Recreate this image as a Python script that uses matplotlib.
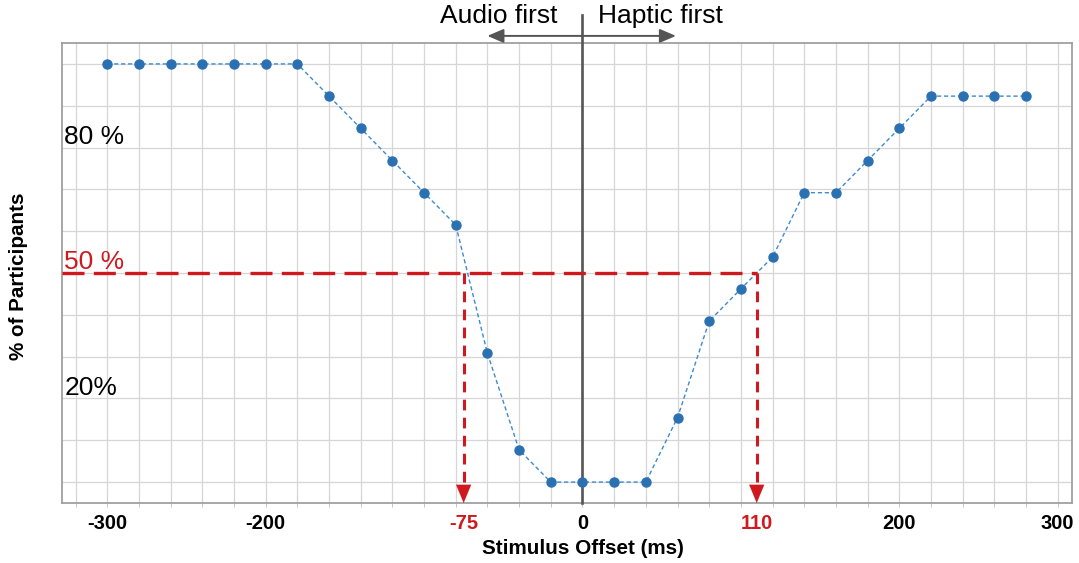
import numpy as np
import matplotlib
matplotlib.use('Agg')
import matplotlib.pyplot as plt
from matplotlib.ticker import MultipleLocator, FixedLocator

plt.rcParams['font.family'] = ['Liberation Sans', 'DejaVu Sans']
plt.rcParams['axes.unicode_minus'] = False

# stimulus offsets (ms) and share of participants answering "synchronous" (%)
offsets = [-300, -280, -260, -240, -220, -200, -180, -160, -140, -120,
           -100, -80, -60, -40, -20, 0, 20, 40, 60, 80,
           100, 120, 140, 160, 180, 200, 220, 240, 260, 280]
participants = [100, 100, 100, 100, 100, 100, 100, 92.3, 84.6, 76.9,
                69.2, 61.5, 30.8, 7.7, 0, 0, 0, 0, 15.4, 38.5,
                46.2, 53.8, 69.2, 69.2, 76.9, 84.6, 92.3, 92.3, 92.3, 92.3]

tick_pos = [-300, -200, -75, 0, 110, 200, 300]
tick_labels = ['-300', '-200', '-75', '0', '110', '200', '300']
thresholds = [-75, 110]
level_labels = ['80 %', '50 %', '20%']
level_values = [80, 50, 20]

RED = '#d0181f'
GREY = '#555555'

fig = plt.figure(figsize=(10.79, 5.63), dpi=100)
ax = fig.add_axes([0.0575, 0.1066, 0.936, 0.817])

x0, x1 = -328.5, 309
ax.set_xlim(x0, x1)
ax.set_ylim(-5, 105)

# grid
ax.xaxis.set_minor_locator(MultipleLocator(20))
ax.xaxis.remove_overlapping_locs = False
ax.xaxis.set_major_locator(FixedLocator(tick_pos))
ax.set_xticklabels(tick_labels, fontsize=14.5, fontweight='bold')
ax.yaxis.set_major_locator(MultipleLocator(10))
ax.set_yticklabels([])
ax.grid(which='minor', axis='x', color='#d6d6d6', lw=0.9)
ax.grid(which='major', axis='y', color='#d6d6d6', lw=0.9)
ax.grid(which='major', axis='x', visible=False)
ax.tick_params(axis='x', which='major', length=0, pad=8)
ax.tick_params(axis='x', which='minor', length=3, color='#bbbbbb')
ax.tick_params(axis='y', length=0)
for lab, t in zip(ax.get_xticklabels(), tick_pos):
    if t in thresholds:
        lab.set_color(RED)
for s in ax.spines.values():
    s.set_color('#a0a0a0')
    s.set_linewidth(1.3)
ax.set_axisbelow(True)

# zero line reaching above the plot
ax.axvline(0, ymin=0, ymax=1.06, color=GREY, lw=1.9, clip_on=False, zorder=3)

# data
ax.plot(offsets, participants, linestyle='--', dashes=(3, 2), color='#3d8ad0',
        lw=1.0, zorder=4)
ax.plot(offsets, participants, linestyle='none', marker='o', ms=6.5,
        color='#2b71b1', zorder=5)

# 50% threshold
ax.plot([x0, thresholds[1]], [50, 50], color=RED, lw=2.4,
        linestyle=(0, (6.6, 2.8)), zorder=6)
for t in thresholds:
    ax.plot([t, t], [50, -1.0], color=RED, lw=2.2,
            linestyle=(0, (3.5, 2.4)), zorder=6)
    ax.annotate('', xy=(t, -5), xytext=(t, -0.8),
                arrowprops=dict(arrowstyle='-|>,head_length=0.65,head_width=0.27',
                                color=RED, lw=0.1, shrinkA=0, shrinkB=0,
                                mutation_scale=20),
                zorder=7, annotation_clip=False)

# level annotations inside the plot
for lab, v in zip(level_labels, level_values):
    ax.text(-327, v + 0.9, lab, fontsize=19, va='baseline', ha='left',
            color=RED if v == 50 else 'black', zorder=8)

# direction arrows on top
for dx in [-60, 59]:
    ax.annotate('', xy=(dx, 106.7), xytext=(0, 106.7),
                arrowprops=dict(arrowstyle='-|>,head_length=0.7,head_width=0.3',
                                color=GREY, lw=1.4, shrinkA=0, shrinkB=0,
                                mutation_scale=14),
                annotation_clip=False)
ax.text(-52.6, 109.8, 'Audio first', fontsize=19, ha='center', va='baseline')
ax.text(49, 109.8, 'Haptic first', fontsize=19, ha='center', va='baseline')

ax.set_xlabel('Stimulus Offset (ms)', fontsize=14.9, fontweight='bold')
ax.xaxis.set_label_coords((0 - x0) / (x1 - x0), -0.079)
ax.set_ylabel('% of Participants', fontsize=14.9, fontweight='bold')
ax.yaxis.set_label_coords(-0.034, 0.4928)

fig.savefig('out.png', dpi=100)
